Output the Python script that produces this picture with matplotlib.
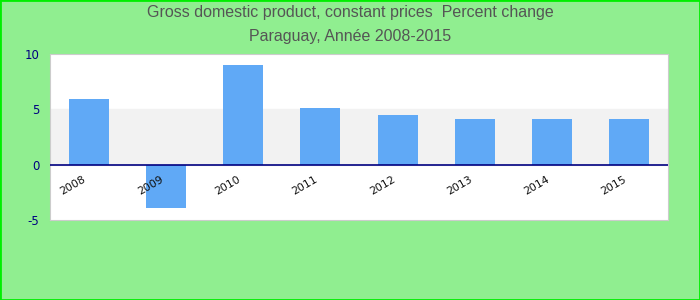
import matplotlib
matplotlib.use("Agg")
import matplotlib.pyplot as plt
from matplotlib.patches import Rectangle

years = ["2008", "2009", "2010", "2011", "2012", "2013", "2014", "2015"]
values = [5.9, -3.9, 9.0, 5.1, 4.5, 4.1, 4.1, 4.1]
yticks = [-5, 0, 5, 10]
title1 = "Gross domestic product, constant prices  Percent change"
title2 = "Paraguay, Année 2008-2015"

plt.rcParams['font.family'] = ['Liberation Sans', 'DejaVu Sans']

fig = plt.figure(figsize=(7, 3), dpi=100, facecolor='#90EE90')
fig.patches.append(Rectangle((0, 0), 1, 1, transform=fig.transFigure, fill=False,
                             edgecolor='#00EE00', linewidth=2))
ax = fig.add_axes([50/700, 80/300, 618/700, 166/300])
ax.set_facecolor('white')
x = list(range(len(years)))
ax.axhspan(0, 5, color='#f2f2f2', zorder=0)
ax.bar(x, values, width=0.52, color='#60A9F6', zorder=2)
ax.axhline(0, color='#000080', linewidth=1.2, zorder=3)
ax.set_xlim(-0.5, len(years) - 0.5)
ax.set_ylim(-5, 10)
ax.set_yticks(yticks)
ax.set_yticklabels([str(v) for v in yticks], color='#000080', fontsize=8.5,
                   family='DejaVu Sans')
ax.tick_params(axis='y', length=0, pad=7.5)
ax.set_xticks([])
for sp in ax.spines.values():
    sp.set_color('#cccccc')
for i, yr in enumerate(years):
    ax.text(i - 0.2, -1.9, yr, rotation=30, ha='center', va='center',
            fontsize=7.8, color='#111111', family='DejaVu Sans', zorder=4)
fig.text(0.5, 1 - 13/300, title1, ha='center', va='center', fontsize=11.5, color='#555555')
fig.text(0.5, 1 - 36/300, title2, ha='center', va='center', fontsize=11.5, color='#555555')
fig.savefig('out.png', dpi=100, facecolor=fig.get_facecolor())
